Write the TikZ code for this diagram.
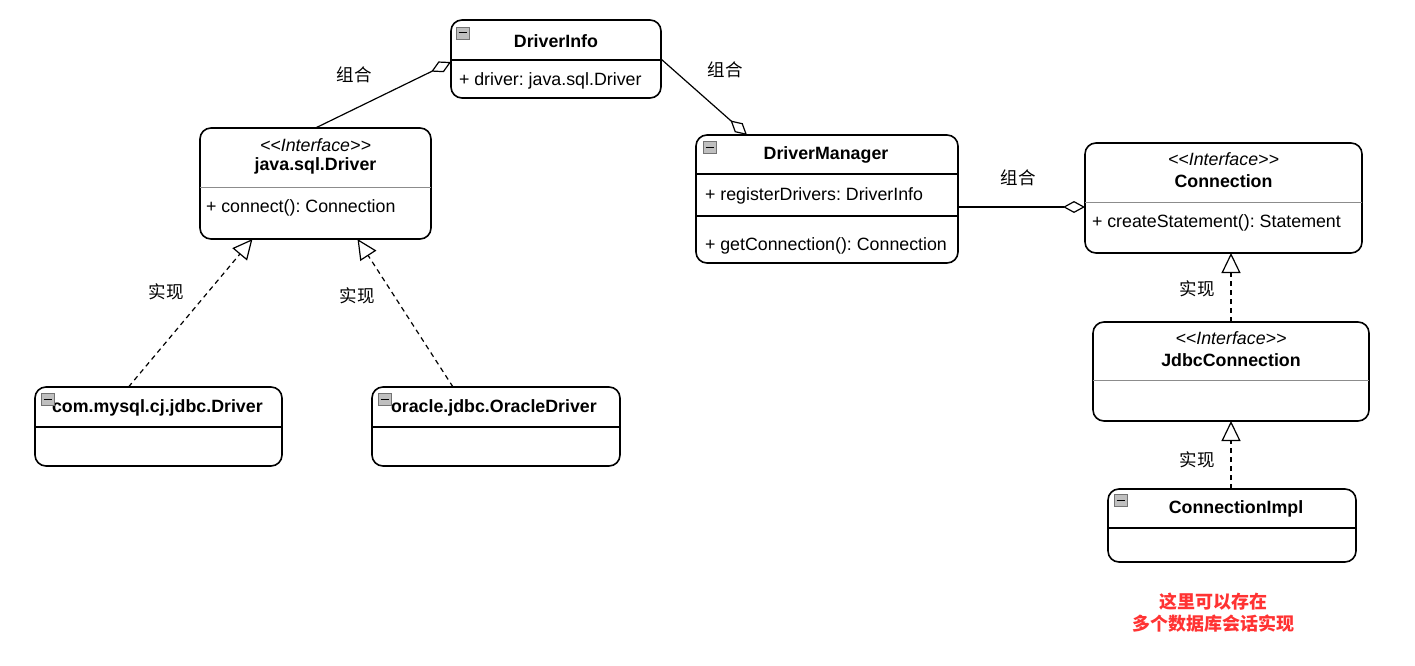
\documentclass[tikz,border=0pt]{standalone}
\usepackage{fontspec}
\setmainfont{Liberation Sans}
\newfontfamily\cjk{Noto Sans CJK SC}
\usetikzlibrary{arrows.meta,calc}
\frenchspacing
\begin{document}
\begin{tikzpicture}[x=1pt,y=-1pt,
  every node/.style={font=\fontsize{17.8}{20}\selectfont, inner sep=0pt, outer sep=0pt},
  umlbox/.style={draw, rounded corners=11pt, line width=1.6pt, anchor=north west},
  divline/.style={line width=1.3pt},
  graydiv/.style={line width=0.9pt, draw=black!45},
  ttl/.style={font=\fontsize{17.8}{20}\selectfont\bfseries},
  stereo/.style={font=\fontsize{17.8}{20}\selectfont\itshape},
  attr/.style={anchor=west},
  lbl/.style={font=\fontsize{17.5}{20}\selectfont\cjk},
  icon/.style={draw=black!55, fill=black!25, line width=0.7pt},
  agg/.style={line width=1.2pt, -{Diamond[open, length=22pt, width=12pt, line width=1.2pt]}},
  impl/.style={line width=1.2pt, dash pattern=on 5pt off 4pt, -{Triangle[open, length=20pt, width=19pt, line width=1.2pt]}}
]
\useasboundingbox (0,0) rectangle (1415,666);

% ---- DriverInfo
\node[umlbox, minimum width=210pt, minimum height=78pt] (info) at (451,20) {};
\draw[divline] (451,60) -- (661,60);
\node[ttl] (infoT) at (556,41) {DriverInfo};
\node[attr] (infoA) at (459,80.5) {+ driver: java.sql.Driver};
\filldraw[icon] (456,27) rectangle (469,39); \draw[line width=1pt] (458.5,33) -- (466.5,33);

% ---- java.sql.Driver
\node[umlbox, minimum width=231pt, minimum height=111pt] (jdriver) at (200,128) {};
\draw[graydiv] (200,187) -- (431,187);
\node[stereo] (jdS) at (315.5,145.5) {{<}{<}Interface{>}{>}};
\node[ttl] (jdT) at (315.5,166) {java.sql.Driver};
\node[attr] (jdA) at (206,208) {+ connect(): Connection};

% ---- DriverManager
\node[umlbox, minimum width=262pt, minimum height=128pt] (dm) at (696,135) {};
\draw[divline] (696,174) -- (958,174);
\draw[divline] (696,216) -- (958,216);
\node[ttl] (dmT) at (826,155) {DriverManager};
\node[attr] (dmA) at (705,195.5) {+ registerDrivers: DriverInfo};
\node[attr] (dmM) at (705,246) {+ getConnection(): Connection};
\filldraw[icon] (703,141) rectangle (716,153); \draw[line width=1pt] (705.5,147) -- (713.5,147);

% ---- Connection
\node[umlbox, minimum width=277pt, minimum height=110pt] (conn) at (1085,143) {};
\draw[graydiv] (1085,202) -- (1362,202);
\node[stereo] (cS) at (1223.5,159.5) {{<}{<}Interface{>}{>}};
\node[ttl] (cT) at (1223.5,181) {Connection};
\node[attr] (cA) at (1092,223) {+ createStatement(): Statement};

% ---- JdbcConnection
\node[umlbox, minimum width=276pt, minimum height=99pt] (jdbc) at (1093,322) {};
\draw[graydiv] (1093,380) -- (1369,380);
\node[stereo] (jS) at (1231,338.5) {{<}{<}Interface{>}{>}};
\node[ttl] (jT) at (1231,360) {JdbcConnection};

% ---- ConnectionImpl
\node[umlbox, minimum width=248pt, minimum height=73pt] (impl) at (1108,489) {};
\draw[divline] (1108,528) -- (1356,528);
\node[ttl] (iT) at (1236,509) {ConnectionImpl};
\filldraw[icon] (1114,494) rectangle (1127,506); \draw[line width=1pt] (1116.5,500) -- (1124.5,500);

% ---- com.mysql.cj.jdbc.Driver
\node[umlbox, minimum width=247pt, minimum height=79pt] (mysql) at (35,387) {};
\draw[divline] (35,427) -- (282,427);
\node[ttl, anchor=west] (mT) at (52,408) {com.mysql.cj.jdbc.Driver};
\filldraw[icon] (41,393) rectangle (54,405); \draw[line width=1pt] (43.5,399) -- (51.5,399);

% ---- oracle.jdbc.OracleDriver
\node[umlbox, minimum width=248pt, minimum height=79pt] (ora) at (372,387) {};
\draw[divline] (372,427) -- (620,427);
\node[ttl, anchor=west] (oT) at (391,408) {oracle.jdbc.OracleDriver};
\filldraw[icon] (378,393) rectangle (391,405); \draw[line width=1pt] (380.5,399) -- (388.5,399);

% ---- connectors
\draw[agg] (jdriver.north) -- ([yshift=-3pt]info.west);
\draw[agg] (info.east) -- ([xshift=-80pt]dm.north);
\draw[agg] ([yshift=-8pt]dm.east) -- ([yshift=-9pt]conn.west);
\draw[impl] ([xshift=-30pt]mysql.north) -- ([xshift=-63pt]jdriver.south);
\draw[impl] ([xshift=-43pt]ora.north) -- ([xshift=42pt]jdriver.south);
\draw[impl] (jdbc.north) -- (jdbc.north |- conn.south);
\draw[impl] (impl.north -| jdbc.south) -- (jdbc.south);

% ---- labels
\node[lbl] (l1) at (354,75) {组合};
\node[lbl] (l2) at (725,70) {组合};
\node[lbl] (l3) at (1018,178) {组合};
\node[lbl] (l4) at (166,292) {实现};
\node[lbl] (l5) at (357,296) {实现};
\node[lbl] (l6) at (1197,289) {实现};
\node[lbl] (l7) at (1197,460) {实现};

\node[font=\fontsize{18}{22}\selectfont\cjk\bfseries, text=red!80!white, align=center] (note) at (1213,613) {这里可以存在\\多个数据库会话实现};
\end{tikzpicture}
\end{document}
